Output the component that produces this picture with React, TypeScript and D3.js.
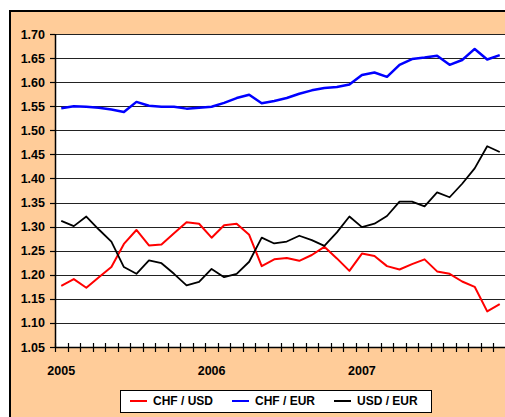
import { useEffect, useRef } from "react"
import * as d3 from "d3"

// monthly points, Jan 2005 - Dec 2007
const months = d3.range(36)
const yearLabels = ["2005", "2006", "2007"]
const yTicks = [1.05, 1.1, 1.15, 1.2, 1.25, 1.3, 1.35, 1.4, 1.45, 1.5, 1.55, 1.6, 1.65, 1.7]

const chfUsd = [
  1.177, 1.191, 1.173, 1.195, 1.216, 1.264, 1.293, 1.261, 1.263, 1.286, 1.309, 1.306,
  1.277, 1.303, 1.306, 1.283, 1.218, 1.232, 1.235, 1.229, 1.241, 1.258, 1.234, 1.208,
  1.244, 1.239, 1.218, 1.211, 1.222, 1.232, 1.207, 1.202, 1.186, 1.175, 1.124, 1.139,
]
const chfEur = [
  1.546, 1.55, 1.549, 1.547, 1.543, 1.538, 1.559, 1.551, 1.549, 1.549, 1.545, 1.547,
  1.549, 1.557, 1.567, 1.574, 1.556, 1.561, 1.567, 1.576, 1.583, 1.588, 1.59, 1.595,
  1.615, 1.62, 1.611, 1.636, 1.648, 1.651, 1.655, 1.636, 1.646, 1.669, 1.647, 1.656,
]
const usdEur = [
  1.312, 1.301, 1.321, 1.294, 1.269, 1.216, 1.202, 1.23, 1.224, 1.202, 1.178, 1.185,
  1.212, 1.195, 1.202, 1.227, 1.277, 1.265, 1.269, 1.281, 1.272, 1.26, 1.288, 1.321,
  1.299, 1.306, 1.322, 1.352, 1.352, 1.342, 1.371, 1.361, 1.389, 1.421, 1.467, 1.455,
]

const seriesList = [
  { name: "CHF / USD", values: chfUsd, color: "#ff0000", width: 2 },
  { name: "CHF / EUR", values: chfEur, color: "#0000ff", width: 2.5 },
  { name: "USD / EUR", values: usdEur, color: "#000000", width: 1.8 },
]

const App = () => {
  const ref = useRef<SVGSVGElement>(null)

  useEffect(() => {
    const svg = d3.select(ref.current)
    svg.selectAll("*").remove()

    const left = 55
    const right = 506
    const top = 34
    const bottom = 347
    const font = "'Liberation Sans', Arial, sans-serif"

    const x = d3.scaleBand<number>().domain(months).range([left, right])
    const y = d3.scaleLinear().domain([1.05, 1.7]).range([bottom, top])
    const cx = (i: number) => (x(i) as number) + x.bandwidth() / 2

    // chart area
    svg.append("rect")
      .attr("x", 10)
      .attr("y", 11)
      .attr("width", 520)
      .attr("height", 430)
      .attr("fill", "#ffcc99")
      .attr("stroke", "#000")
      .attr("stroke-width", 2)

    // plot area
    svg.append("rect")
      .attr("x", left)
      .attr("y", top)
      .attr("width", right - left)
      .attr("height", bottom - top)
      .attr("fill", "#fff")

    // gridlines
    svg.append("g")
      .selectAll("line")
      .data(yTicks.slice(1))
      .join("line")
      .attr("x1", left)
      .attr("x2", right)
      .attr("y1", d => Math.round(y(d)) + 0.5)
      .attr("y2", d => Math.round(y(d)) + 0.5)
      .attr("stroke", "#222")
      .attr("stroke-width", 1.2)

    // y axis
    const yAxis = svg.append("g")
    yAxis.append("line")
      .attr("x1", left + 0.5)
      .attr("x2", left + 0.5)
      .attr("y1", top)
      .attr("y2", bottom)
      .attr("stroke", "#000")
      .attr("stroke-width", 1.5)
    yAxis.selectAll("line.tick")
      .data(yTicks)
      .join("line")
      .attr("class", "tick")
      .attr("x1", left - 5)
      .attr("x2", left)
      .attr("y1", d => Math.round(y(d)) + 0.5)
      .attr("y2", d => Math.round(y(d)) + 0.5)
      .attr("stroke", "#000")
      .attr("stroke-width", 1.2)
    yAxis.selectAll("text")
      .data(yTicks)
      .join("text")
      .attr("x", 45)
      .attr("y", d => y(d))
      .attr("dy", "0.36em")
      .attr("text-anchor", "end")
      .attr("font-family", font)
      .attr("font-weight", "bold")
      .attr("font-size", 12.5)
      .attr("fill", "#000")
      .text(d => d.toFixed(2))

    // x axis
    const xAxis = svg.append("g")
    xAxis.append("line")
      .attr("x1", left)
      .attr("x2", right)
      .attr("y1", bottom + 0.5)
      .attr("y2", bottom + 0.5)
      .attr("stroke", "#000")
      .attr("stroke-width", 1.5)
    xAxis.selectAll("line.tick")
      .data(d3.range(months.length + 1))
      .join("line")
      .attr("class", "tick")
      .attr("x1", i => Math.round(left + i * x.step()) + 0.5)
      .attr("x2", i => Math.round(left + i * x.step()) + 0.5)
      .attr("y1", bottom - 4)
      .attr("y2", bottom + 5)
      .attr("stroke", "#000")
      .attr("stroke-width", 1.2)
    xAxis.selectAll("text")
      .data(yearLabels)
      .join("text")
      .attr("x", (_, k) => cx(k * 12))
      .attr("y", 375)
      .attr("text-anchor", "middle")
      .attr("font-family", font)
      .attr("font-weight", "bold")
      .attr("font-size", 12.5)
      .attr("fill", "#000")
      .text(d => d)

    // series lines
    const line = d3.line<number>()
      .x((_, i) => cx(i))
      .y(d => y(d))

    svg.append("g")
      .selectAll("path")
      .data(seriesList)
      .join("path")
      .attr("d", s => line(s.values))
      .attr("fill", "none")
      .attr("stroke", s => s.color)
      .attr("stroke-width", s => s.width)
      .attr("stroke-linejoin", "round")

    // legend
    const legend = svg.append("g")
    legend.append("rect")
      .attr("x", 120.5)
      .attr("y", 390.5)
      .attr("width", 311)
      .attr("height", 22)
      .attr("fill", "#fff")
      .attr("stroke", "#000")
      .attr("stroke-width", 1)
    const items = legend.selectAll("g")
      .data(seriesList)
      .join("g")
      .attr("transform", (_, i) => `translate(${130 + i * 102},401)`)
    items.append("line")
      .attr("x1", 0)
      .attr("x2", 17)
      .attr("stroke", s => s.color)
      .attr("stroke-width", 2)
    items.append("text")
      .attr("x", 23)
      .attr("dy", "0.36em")
      .attr("font-family", font)
      .attr("font-weight", "bold")
      .attr("font-size", 12)
      .attr("fill", "#000")
      .text(s => s.name)
  }, [])

  return (
    <svg
      ref={ref}
      width={505}
      height={417}
      style={{ position: "absolute", left: 0, top: 0, display: "block" }}
    />
  )
}

export default App
